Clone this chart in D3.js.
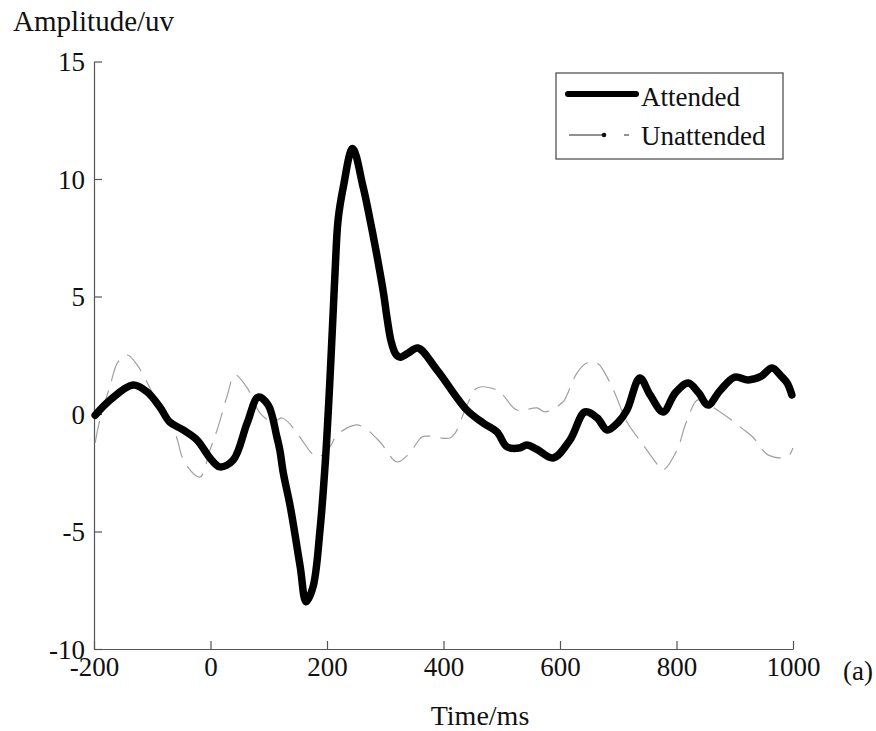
<!DOCTYPE html>
<html>
<head>
<meta charset="utf-8">
<script src="https://cdn.jsdelivr.net/npm/d3@7"></script>
<style>
  body { margin: 0; background: #fff; }
  svg text { font-family: "Liberation Serif", "Times New Roman", serif; fill: #111; }
</style>
</head>
<body>
<div id="chart"></div>
<script>
// Global Variables :
var width = 876,
    height = 731;

var x_ticks = [-200, 0, 200, 400, 600, 800, 1000],
    y_ticks = [-10, -5, 0, 5, 10, 15];

// Attended (thick black)
var att_time = [-198, -172, -133, -109, -87, -70, -47, -23, -1, 16, 39, 63, 82, 99, 114, 119, 125, 137, 154, 164, 176, 188, 197, 202, 205, 211, 214, 219, 228, 244, 262, 274, 285, 297, 303, 310, 318, 326, 340, 356, 389, 440, 468, 492, 509, 530, 543, 560, 588, 617, 643, 664, 681, 700, 715, 737, 755, 777, 798, 820, 838, 854, 875, 900, 923, 945, 964, 980, 990, 998];
var att_amp  = [-0.05, 0.6, 1.23, 0.94, 0.3, -0.34, -0.68, -1.11, -1.87, -2.25, -1.96, -0.38, 0.72, 0.38, -0.98, -1.53, -2.51, -3.95, -6.5, -7.99, -7.36, -4.93, -2.08, 0.04, 1.45, 4.56, 6.12, 8.25, 9.66, 11.3, 9.66, 8.25, 6.84, 5.14, 4.1, 3.1, 2.55, 2.42, 2.6, 2.81, 1.87, 0.17, -0.38, -0.77, -1.4, -1.45, -1.32, -1.5, -1.87, -1.11, 0.09, -0.17, -0.68, -0.35, 0.17, 1.53, 0.8, 0.09, 0.9, 1.32, 0.9, 0.38, 1.0, 1.57, 1.45, 1.6, 1.96, 1.6, 1.32, 0.81];

// Unattended (thin grey dashed)
var un_time = [-198, -190, -173, -159, -143, -126, -104, -87, -61, -44, -18, -1, 13, 28, 42, 63, 85, 107, 123, 149, 157, 183, 205, 217, 248, 262, 291, 320, 339, 363, 373, 411, 420, 442, 458, 492, 502, 526, 561, 574, 605, 612, 629, 646, 664, 677, 694, 715, 743, 768, 777, 801, 815, 832, 837, 875, 912, 931, 957, 990, 1000];
var un_amp  = [-1.23, -0.26, 1.15, 2.21, 2.51, 2.09, 1.11, 0.3, -0.81, -2.08, -2.68, -1.53, -0.55, 0.72, 1.66, 1.11, 0.04, -0.34, -0.17, -0.81, -1.11, -1.83, -1.4, -0.89, -0.47, -0.55, -1.19, -2.04, -1.74, -0.98, -0.94, -1.02, -0.81, 0.47, 1.11, 1.02, 0.81, 0.17, 0.26, 0.09, 0.51, 0.81, 1.74, 2.17, 2.17, 1.74, 0.89, -0.34, -1.32, -2.17, -2.38, -1.53, -0.47, 0.51, 0.6, 0.09, -0.6, -0.98, -1.74, -1.83, -1.45];

var svg = d3.select("#chart").append("svg")
  .attr("width", width)
  .attr("height", height);

svg.append("rect").attr("width", width).attr("height", height).attr("fill", "#fff");

var x = d3.scaleLinear().domain([-200, 1000]).range([94, 793]);
var y = d3.scaleLinear().domain([-10, 15]).range([649, 61.5]);

var fmt = function(d) { return String(d); };

// Axes :
var xAxis = svg.append("g")
  .attr("transform", "translate(0,649)")
  .call(d3.axisBottom(x).tickValues(x_ticks).tickFormat(fmt).tickSizeInner(-8).tickSizeOuter(0).tickPadding(8));

var yAxis = svg.append("g")
  .attr("transform", "translate(94,0)")
  .call(d3.axisLeft(y).tickValues(y_ticks).tickFormat(fmt).tickSizeInner(-8).tickSizeOuter(0).tickPadding(9));

[xAxis, yAxis].forEach(function(a) {
  a.attr("font-family", null);
  a.select(".domain").attr("stroke", "#555").attr("stroke-width", 1.2);
  a.selectAll(".tick line").attr("stroke", "#555").attr("stroke-width", 1.2);
  a.selectAll(".tick text")
    .style("font-family", '"Liberation Serif", "Times New Roman", serif')
    .style("font-size", "27px")
    .attr("fill", "#111");
});
yAxis.selectAll(".tick text").attr("dy", "0.34em");

// Lines
var line = d3.line()
  .x(function(d) { return x(d[0]); })
  .y(function(d) { return y(d[1]); })
  .curve(d3.curveCatmullRom.alpha(0.5));

var un_data = un_time.map(function(t, i) { return [t, un_amp[i]]; });
var att_data = att_time.map(function(t, i) { return [t, att_amp[i]]; });

svg.append("path")
  .datum(un_data)
  .attr("d", line)
  .attr("fill", "none")
  .attr("stroke", "#a0a0a0")
  .attr("stroke-width", 1.2)
  .attr("stroke-dasharray", "22,10");

svg.append("path")
  .datum(att_data)
  .attr("d", line)
  .attr("fill", "none")
  .attr("stroke", "#000")
  .attr("stroke-width", 7.5)
  .attr("stroke-linejoin", "round")
  .attr("stroke-linecap", "round");

// Labels
svg.append("text").attr("x", 13).attr("y", 31).style("font-size", "29px").text("Amplitude/uv");
svg.append("text").attr("x", 480).attr("y", 725).attr("text-anchor", "middle").style("font-size", "28px").text("Time/ms");
svg.append("text").attr("x", 843).attr("y", 680).style("font-size", "27px").text("(a)");

// Legend :
var legend = svg.append("g");
legend.append("rect")
  .attr("x", 556).attr("y", 73).attr("width", 227).attr("height", 86)
  .attr("fill", "#fff").attr("stroke", "#444").attr("stroke-width", 1.2);
legend.append("line")
  .attr("x1", 568).attr("x2", 636).attr("y1", 94).attr("y2", 94)
  .attr("stroke", "#000").attr("stroke-width", 6).attr("stroke-linecap", "round");
legend.append("text").attr("x", 641).attr("y", 106).style("font-size", "27px").text("Attended");
legend.append("line")
  .attr("x1", 569).attr("x2", 604).attr("y1", 135).attr("y2", 135)
  .attr("stroke", "#222").attr("stroke-width", 1);
legend.append("circle").attr("cx", 604).attr("cy", 135).attr("r", 2.3).attr("fill", "#111");
legend.append("line")
  .attr("x1", 624).attr("x2", 629).attr("y1", 135).attr("y2", 135)
  .attr("stroke", "#222").attr("stroke-width", 1);
legend.append("text").attr("x", 641).attr("y", 145).style("font-size", "27px").text("Unattended");
</script>
</body>
</html>
